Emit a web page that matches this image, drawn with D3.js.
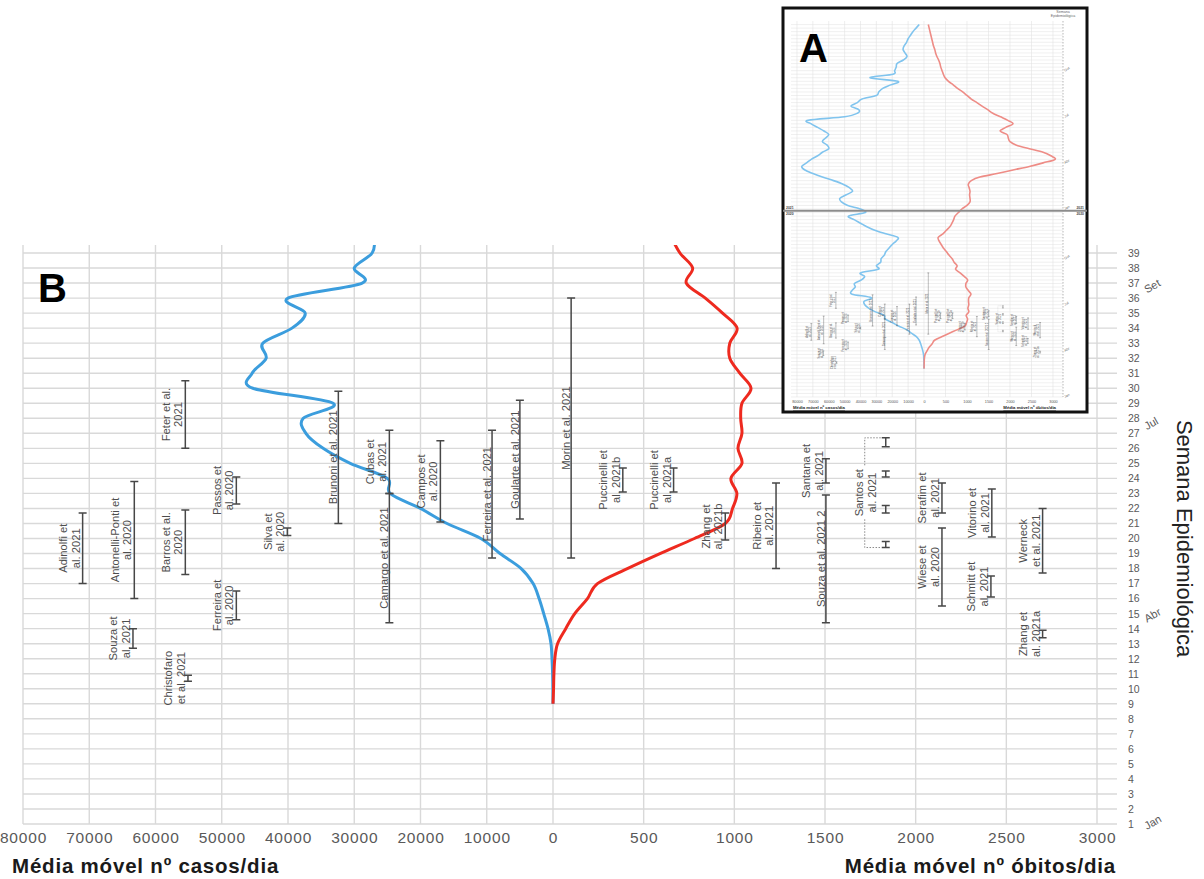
<!DOCTYPE html>
<html lang="pt-BR">
<head>
<meta charset="utf-8">
<title>Semana Epidemiológica</title>
<script src="https://cdn.jsdelivr.net/npm/d3@7/dist/d3.min.js"></script>
<style>
    body { margin: 0; background: #fff; }
    svg { display: block; font-family: "Liberation Sans", Arial, sans-serif; }
</style>
</head>
<body>
<div id="figure"></div>
<script>
// Média móvel 2020, semanas 9-40 (painel B)
const semanas = [9, 10, 11, 12, 13, 14, 15, 16, 17, 18, 19, 20, 21, 22, 23, 24, 25, 26, 27, 28, 29, 30, 31, 32, 33, 34, 35, 36, 37, 38, 39, 40];
const casos = [0, 20, 60, 150, 300, 750, 1400, 2100, 3000, 4800, 8000, 10900, 16000, 20000, 24600, 25000, 30600, 34700, 37300, 37700, 33200, 45300, 45400, 43300, 43800, 39400, 37400, 40000, 28800, 30000, 27300, 27000];
const obitos = [0, 3, 5, 10, 25, 70, 120, 190, 245, 410, 590, 780, 950, 990, 1014, 981, 1042, 1020, 1042, 1035, 1042, 1092, 1030, 975, 975, 1015, 935, 840, 735, 770, 700, 655];

// Continuação para o painel A
const semanasFim2020 = [41, 42, 43, 44, 45, 46, 47, 48, 49, 50, 51, 52, 53];
const casosFim2020 = [25000, 24000, 22000, 20000, 17500, 16500, 24000, 31000, 36000, 40000, 44000, 47500, 37000];
const obitosFim2020 = [580, 520, 450, 400, 350, 330, 440, 520, 600, 650, 690, 720, 800];
const casos2021 = [40000, 48000, 52000, 53000, 49000, 45000, 47000, 51000, 57000, 64000, 70000, 75000, 77000, 74000, 71000, 67000, 64000, 60000, 61000, 64000, 62000, 60000, 63000, 67000, 71000, 73000, 50000, 42000, 41000, 46000, 42000, 39000, 30000, 28500, 26000, 21000, 16500, 34000, 19500, 18500, 17500, 17000, 13000, 10700, 12000, 13200, 12500, 11000, 10000, 8500, 7000, 5000, 3000];
const obitos2021 = [880, 1000, 1070, 1070, 1060, 1070, 1050, 1030, 1100, 1300, 1700, 2070, 2450, 2770, 3050, 2950, 2770, 2450, 2150, 2000, 1960, 1930, 1770, 1900, 2070, 1950, 1780, 1600, 1480, 1350, 1230, 1100, 1000, 900, 780, 680, 570, 490, 450, 420, 390, 370, 340, 300, 270, 250, 220, 200, 180, 160, 140, 120, 100];

// Eixos
const semanaTicks = d3.range(1, 40);
const casosTicks = [0, 10000, 20000, 30000, 40000, 50000, 60000, 70000, 80000];
const obitosTicks = [0, 500, 1000, 1500, 2000, 2500, 3000];
const meses = ["Jan", "Abr", "Jul", "Set"];
const mesesSemana = [1, 14.8, 27.6, 36.7];
const mesesA = ["Jan", "Abr", "Jul", "Out", "Jan", "Abr", "Jul", "Out"];
const mesesAIndice = [0, 13, 26, 39, 53, 66, 79, 92];

// Estudos: posição no eixo (casos ou óbitos) e semanas de coleta
const estudos = [
    { nome: ["Adinolfi et", "al. 2021"], eixo: "casos", valor: 71000, periodos: [[17.0, 21.7]] },
    { nome: ["Antonelli-Ponti et", "al. 2020"], eixo: "casos", valor: 63200, periodos: [[16.0, 23.8]] },
    { nome: ["Souza et", "al. 2021"], eixo: "casos", valor: 63400, periodos: [[12.7, 14.0]] },
    { nome: ["Feter et al.", "2021"], eixo: "casos", valor: 55500, periodos: [[26.0, 30.5]] },
    { nome: ["Barros et al.", "2020"], eixo: "casos", valor: 55500, periodos: [[17.6, 21.9]] },
    { nome: ["Christofaro", "et al. 2021"], eixo: "casos", valor: 55100, periodos: [[10.5, 10.9]] },
    { nome: ["Ferreira et", "al. 2020"], eixo: "casos", valor: 47800, periodos: [[14.6, 16.5]] },
    { nome: ["Passos et", "al. 2020"], eixo: "casos", valor: 47800, periodos: [[22.3, 24.1]] },
    { nome: ["Silva et", "al. 2020"], eixo: "casos", valor: 40100, periodos: [[20.2, 20.7]] },
    { nome: ["Brunoni et al. 2021"], eixo: "casos", valor: 32400, periodos: [[21.0, 29.8]] },
    { nome: ["Cubas et", "al. 2021"], eixo: "casos", valor: 24700, periodos: [[23.0, 27.2]] },
    { nome: ["Camargo et al. 2021"], eixo: "casos", valor: 24700, periodos: [[14.4, 23.0]] },
    { nome: ["Campos et", "al. 2020"], eixo: "casos", valor: 17000, periodos: [[21.1, 26.5]] },
    { nome: ["Ferreira et al. 2021"], eixo: "casos", valor: 9200, periodos: [[18.7, 27.2]] },
    { nome: ["Goularte et al. 2021"], eixo: "casos", valor: 5000, periodos: [[21.3, 29.2]] },
    { nome: ["Morin et al. 2021"], eixo: "obitos", valor: 100, periodos: [[18.7, 36.0]] },
    { nome: ["Puccinelli et", "al. 2021b"], eixo: "obitos", valor: 385, periodos: [[23.1, 24.7]] },
    { nome: ["Puccinelli et", "al. 2021a"], eixo: "obitos", valor: 665, periodos: [[23.1, 24.7]] },
    { nome: ["Zhang et", "al. 2021b"], eixo: "obitos", valor: 950, periodos: [[19.9, 21.7]] },
    { nome: ["Ribeiro et", "al. 2021"], eixo: "obitos", valor: 1230, periodos: [[18.0, 23.7]] },
    { nome: ["Santana et", "al. 2021"], eixo: "obitos", valor: 1505, periodos: [[23.7, 25.3]] },
    { nome: ["Souza et al. 2021 2"], eixo: "obitos", valor: 1505, periodos: [[14.4, 22.9]] },
    { nome: ["Santos et", "al. 2021"], eixo: "obitos", valor: 1835, periodos: [[26.1, 26.7], [24.1, 24.5], [21.7, 22.2], [19.4, 19.8]] },
    { nome: ["Serafim et", "al. 2021"], eixo: "obitos", valor: 2145, periodos: [[21.7, 23.7]] },
    { nome: ["Wiese et", "al. 2020"], eixo: "obitos", valor: 2145, periodos: [[15.5, 20.7]] },
    { nome: ["Vitorino et", "al. 2021"], eixo: "obitos", valor: 2420, periodos: [[20.1, 23.3]] },
    { nome: ["Schmitt et", "al. 2021"], eixo: "obitos", valor: 2415, periodos: [[16.1, 17.5]] },
    { nome: ["Werneck", "et al. 2021"], eixo: "obitos", valor: 2700, periodos: [[17.7, 22.0]] },
    { nome: ["Zhang et", "al. 2021a"], eixo: "obitos", valor: 2700, periodos: [[13.4, 13.9]] }
];

const width = 1204;
const height = 879;
const azul = "#3b9ddd";
const vermelho = "#ee2a1f";
const cinzaGrade = "#d9d9d9";

// Add SVG element
const svg = d3.select("#figure")
    .append("svg")
    .attr("viewBox", [0, 0, width, height])
    .attr("width", width)
    .attr("height", height);

// Scales (panel B)
const xCasos = d3.scaleLinear().domain([0, 80000]).range([553, 23]);
const xObitos = d3.scaleLinear().domain([0, 3000]).range([553, 1097]);
const yScale = d3.scaleLinear().domain([1, 39]).range([824, 253]);
const topoB = 245;
const gradeDireita = 1117;

// Draw studies (error bars + rotated labels), reused for the small panel
const drawEstudos = (g, xCas, xObi, yS, s) => {
    const fonte = 11.2 * s;
    const capa = 4 * s;
    const passo = 12.5 * s;
    estudos.forEach(e => {
        const x = e.eixo === "casos" ? xCas(e.valor) : xObi(e.valor);
        const grupo = g.append("g").attr("class", "estudo");

        grupo.selectAll("path")
            .data(e.periodos)
            .join("path")
            .attr("d", p => {
                const y0 = yS(p[0]);
                const y1 = yS(p[1]);
                return `M${x},${y0}V${y1}M${x - capa},${y0}H${x + capa}M${x - capa},${y1}H${x + capa}`;
            })
            .attr("fill", "none")
            .attr("stroke", "#474747")
            .attr("stroke-width", 1.5 * s);

        const topo = yS(d3.max(e.periodos, p => p[1]));
        const base = yS(d3.min(e.periodos, p => p[0]));
        const cy = (topo + base) / 2;
        const agrupado = e.periodos.length > 1;
        const xColchete = x - 21 * s;
        const n = e.nome.length;
        let ancora;
        if (agrupado) {
            ancora = xColchete + 11 * s;
        } else if (n > 1) {
            ancora = x - 3 * s;
        } else {
            ancora = x - 1 * s;
        }

        const textos = grupo.selectAll("text")
            .data(e.nome)
            .join("text")
            .attr("transform", (d, i) => `translate(${ancora - (n - 1 - i) * passo},${cy}) rotate(-90)`)
            .attr("text-anchor", "middle")
            .attr("font-size", fonte)
            .attr("fill", "#4d4d4d")
            .text(d => d);

        if (agrupado) {
            const comprimento = d3.max(textos.nodes(), t => t.getComputedTextLength());
            const folga = comprimento / 2 + 3 * s;
            grupo.append("path")
                .attr("d", `M${x - capa - 1 * s},${topo}H${xColchete}V${cy - folga}M${xColchete},${cy + folga}V${base}H${x - capa - 1 * s}`)
                .attr("fill", "none")
                .attr("stroke", "#8a8a8a")
                .attr("stroke-width", 1 * s)
                .attr("stroke-dasharray", `${1.5 * s},${1.5 * s}`);
        }
    });
};

// Horizontal gridlines
svg.append("g")
    .attr("class", "grade-h")
    .selectAll("line")
    .data(semanaTicks)
    .join("line")
    .attr("x1", xCasos(80000))
    .attr("x2", gradeDireita)
    .attr("y1", d => yScale(d))
    .attr("y2", d => yScale(d))
    .attr("stroke", cinzaGrade)
    .attr("stroke-width", 1.4);

// Vertical gridlines
const verticais = casosTicks.map(d => xCasos(d)).concat(obitosTicks.slice(1).map(d => xObitos(d)));
svg.append("g")
    .attr("class", "grade-v")
    .selectAll("line")
    .data(verticais)
    .join("line")
    .attr("x1", d => d)
    .attr("x2", d => d)
    .attr("y1", topoB)
    .attr("y2", yScale(1))
    .attr("stroke", cinzaGrade)
    .attr("stroke-width", 1.4);

// Bottom axes
const estiloTick = sel => sel
    .call(g => g.select(".domain").remove())
    .selectAll("text")
    .attr("font-family", "Liberation Sans, Arial, sans-serif")
    .attr("font-size", 15.5)
    .attr("letter-spacing", 0.8)
    .attr("fill", "#595959");

svg.append("g")
    .attr("transform", `translate(0,${yScale(1)})`)
    .call(d3.axisBottom(xCasos).tickValues(casosTicks).tickSize(0).tickPadding(8).tickFormat(d3.format("d")))
    .call(estiloTick);

svg.append("g")
    .attr("transform", `translate(0,${yScale(1)})`)
    .call(d3.axisBottom(xObitos).tickValues(obitosTicks.slice(1)).tickSize(0).tickPadding(8).tickFormat(d3.format("d")))
    .call(estiloTick);

// Right axis (weeks)
svg.append("g")
    .attr("transform", `translate(${gradeDireita},0)`)
    .call(d3.axisRight(yScale).tickValues(semanaTicks).tickSize(0).tickPadding(11))
    .call(g => g.select(".domain").remove())
    .selectAll("text")
    .attr("font-family", "Liberation Sans, Arial, sans-serif")
    .attr("font-size", 10.5)
    .attr("fill", "#595959");

// Month labels
svg.append("g")
    .selectAll("text")
    .data(meses)
    .join("text")
    .attr("transform", (d, i) => `translate(1147,${yScale(mesesSemana[i]) + 6}) rotate(-30)`)
    .attr("font-size", 11)
    .attr("fill", "#595959")
    .text(d => d);

// Axis titles
svg.append("text")
    .attr("x", 12)
    .attr("y", 873)
    .attr("font-size", 20.5)
    .attr("font-weight", "bold")
    .attr("letter-spacing", 0.8)
    .attr("fill", "#1a1a1a")
    .text("Média móvel nº casos/dia");

svg.append("text")
    .attr("x", 1116)
    .attr("y", 873)
    .attr("text-anchor", "end")
    .attr("font-size", 20.5)
    .attr("font-weight", "bold")
    .attr("letter-spacing", 0.8)
    .attr("fill", "#1a1a1a")
    .text("Média móvel nº óbitos/dia");

svg.append("text")
    .attr("transform", `translate(1177,${(yScale(39) + yScale(1)) / 2}) rotate(90)`)
    .attr("text-anchor", "middle")
    .attr("font-size", 22)
    .attr("fill", "#222")
    .text("Semana Epidemiológica");

// Clip for curves
svg.append("defs")
    .append("clipPath")
    .attr("id", "clip-b")
    .append("rect")
    .attr("x", 0)
    .attr("y", topoB)
    .attr("width", width)
    .attr("height", yScale(1) - topoB + 5);

const serieB = (valores) => semanas.map((s, i) => ({ s: s, v: valores[i] }));

const lineCasos = d3.line()
    .x(d => xCasos(d.v))
    .y(d => yScale(d.s))
    .curve(d3.curveCatmullRom.alpha(0));

const lineObitos = d3.line()
    .x(d => xObitos(d.v))
    .y(d => yScale(d.s))
    .curve(d3.curveCatmullRom.alpha(0));

const curvas = svg.append("g").attr("clip-path", "url(#clip-b)");
curvas.append("path")
    .attr("d", lineCasos(serieB(casos)))
    .attr("fill", "none")
    .attr("stroke", azul)
    .attr("stroke-width", 3);
curvas.append("path")
    .attr("d", lineObitos(serieB(obitos)))
    .attr("fill", "none")
    .attr("stroke", vermelho)
    .attr("stroke-width", 3);

// Studies
drawEstudos(svg.append("g").attr("class", "estudos-b"), xCasos, xObitos, yScale, 1);

// Panel letter B
svg.append("text")
    .attr("x", 38)
    .attr("y", 302)
    .attr("font-size", 40)
    .attr("font-weight", "bold")
    .attr("fill", "#000")
    .text("B");

// ---------- Panel A (inset) ----------
const caixa = { x0: 783, y0: 8, x1: 1087, y1: 412 };
const xCasosA = d3.scaleLinear().domain([0, 80000]).range([924, 797]);
const xObitosA = d3.scaleLinear().domain([0, 3000]).range([924, 1053]);
const yA = d3.scaleLinear().domain([0, 106]).range([397, 21]);
const indiceSemanas = d3.range(0, 106);

const painelA = svg.append("g").attr("class", "painel-a");

painelA.append("rect")
    .attr("x", caixa.x0)
    .attr("y", caixa.y0)
    .attr("width", caixa.x1 - caixa.x0)
    .attr("height", caixa.y1 - caixa.y0)
    .attr("fill", "#fff")
    .attr("stroke", "#111")
    .attr("stroke-width", 3);

painelA.append("g")
    .selectAll("line")
    .data(indiceSemanas)
    .join("line")
    .attr("x1", xCasosA(80000) - 6)
    .attr("x2", 1063)
    .attr("y1", d => yA(d))
    .attr("y2", d => yA(d))
    .attr("stroke", "#e6e6e6")
    .attr("stroke-width", 0.6);

const verticaisA = casosTicks.map(d => xCasosA(d)).concat(obitosTicks.slice(1).map(d => xObitosA(d)));
painelA.append("g")
    .selectAll("line")
    .data(verticaisA)
    .join("line")
    .attr("x1", d => d)
    .attr("x2", d => d)
    .attr("y1", yA(106))
    .attr("y2", yA(0))
    .attr("stroke", "#e3e3e3")
    .attr("stroke-width", 0.6);

// Right dashed axis of the inset
painelA.append("line")
    .attr("x1", 1063)
    .attr("x2", 1063)
    .attr("y1", yA(106))
    .attr("y2", yA(0))
    .attr("stroke", "#9a9a9a")
    .attr("stroke-width", 0.7)
    .attr("stroke-dasharray", "1.5,1.5");

painelA.append("g")
    .selectAll("text")
    .data(mesesA)
    .join("text")
    .attr("transform", (d, i) => `translate(1065,${yA(mesesAIndice[i]) + 1}) rotate(-30)`)
    .attr("font-size", 3.5)
    .attr("fill", "#666")
    .text(d => d);

painelA.append("g")
    .selectAll("text")
    .data(["Semana", "Epidemiológica"])
    .join("text")
    .attr("x", 1063)
    .attr("y", (d, i) => 13 + i * 4)
    .attr("text-anchor", "middle")
    .attr("font-size", 3.6)
    .attr("fill", "#666")
    .text(d => d);

// Inset tick labels
painelA.append("g")
    .attr("transform", `translate(0,${yA(0)})`)
    .call(d3.axisBottom(xCasosA).tickValues(casosTicks).tickSize(0).tickPadding(3).tickFormat(d3.format("d")))
    .call(g => g.select(".domain").remove())
    .selectAll("text")
    .attr("font-size", 3.8)
    .attr("fill", "#555");

painelA.append("g")
    .attr("transform", `translate(0,${yA(0)})`)
    .call(d3.axisBottom(xObitosA).tickValues(obitosTicks.slice(1)).tickSize(0).tickPadding(3).tickFormat(d3.format("d")))
    .call(g => g.select(".domain").remove())
    .selectAll("text")
    .attr("font-size", 3.8)
    .attr("fill", "#555");

painelA.append("text")
    .attr("x", 793)
    .attr("y", 409)
    .attr("font-size", 4.3)
    .attr("font-weight", "bold")
    .attr("text-decoration", "underline")
    .attr("fill", "#222")
    .text("Média móvel nº casos/dia");

painelA.append("text")
    .attr("x", 1056)
    .attr("y", 409)
    .attr("text-anchor", "end")
    .attr("font-size", 4.3)
    .attr("font-weight", "bold")
    .attr("text-decoration", "underline")
    .attr("fill", "#222")
    .text("Média móvel nº óbitos/dia");

// Inset series: index 0 = week 1 of 2020, index 53 = week 1 of 2021
const serieA = (inicio, fim2020, ano2021) => semanas.filter(s => s <= 40).map((s, i) => ({ k: s - 1, v: inicio[i] }))
    .concat(semanasFim2020.map((s, i) => ({ k: s - 1, v: fim2020[i] })))
    .concat(ano2021.map((v, i) => ({ k: 53 + i, v: v })));

painelA.append("path")
    .attr("d", d3.line().x(d => xCasosA(d.v)).y(d => yA(d.k)).curve(d3.curveCatmullRom.alpha(0))(serieA(casos, casosFim2020, casos2021)))
    .attr("fill", "none")
    .attr("stroke", "#80c4ee")
    .attr("stroke-width", 1.6);

painelA.append("path")
    .attr("d", d3.line().x(d => xObitosA(d.v)).y(d => yA(d.k)).curve(d3.curveCatmullRom.alpha(0))(serieA(obitos, obitosFim2020, obitos2021)))
    .attr("fill", "none")
    .attr("stroke", "#ee8c86")
    .attr("stroke-width", 1.6);

// Studies in the inset (2020 weeks)
drawEstudos(painelA.append("g"), xCasosA, xObitosA, w => yA(w - 1), 0.24);

// Year divider
const yDivisa = yA(52.5);
painelA.append("line")
    .attr("x1", caixa.x0)
    .attr("x2", caixa.x1)
    .attr("y1", yDivisa)
    .attr("y2", yDivisa)
    .attr("stroke", "#8c8c8c")
    .attr("stroke-width", 2.2);

[[caixa.x0 + 3, "start"], [caixa.x1 - 3, "end"]].forEach(([x, ancora]) => {
    painelA.append("text")
        .attr("x", x).attr("y", yDivisa - 2)
        .attr("text-anchor", ancora)
        .attr("font-size", 3.4).attr("font-weight", "bold").attr("fill", "#444")
        .text("2021");
    painelA.append("text")
        .attr("x", x).attr("y", yDivisa + 4.6)
        .attr("text-anchor", ancora)
        .attr("font-size", 3.4).attr("font-weight", "bold").attr("fill", "#444")
        .text("2020");
});

// Panel letter A
painelA.append("text")
    .attr("x", 799)
    .attr("y", 62)
    .attr("font-size", 40)
    .attr("font-weight", "bold")
    .attr("fill", "#000")
    .text("A");
</script>
</body>
</html>
